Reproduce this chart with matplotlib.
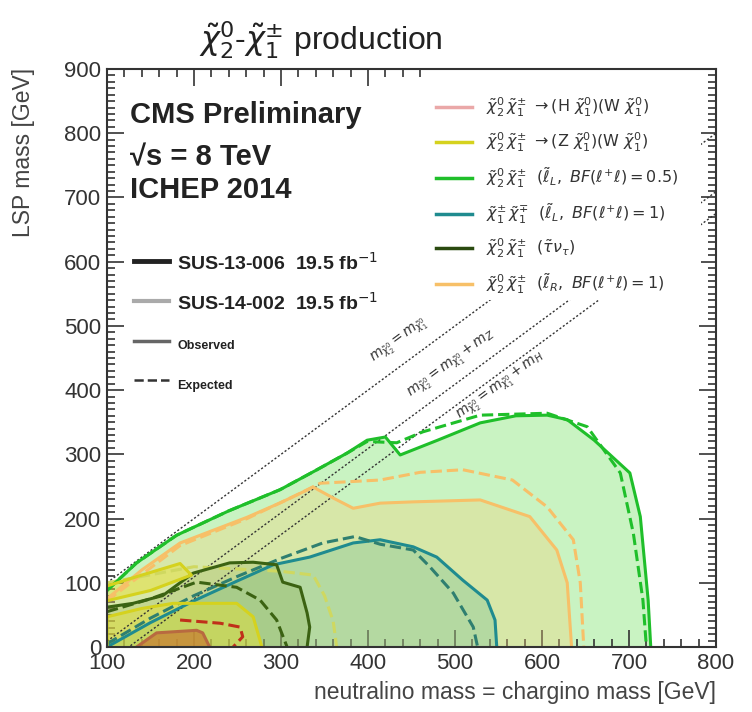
import numpy as np
import matplotlib.pyplot as plt
from matplotlib.lines import Line2D
from matplotlib.patches import Rectangle
from matplotlib.ticker import MultipleLocator

plt.rcParams['font.family'] = ['Liberation Sans', 'DejaVu Sans']

# Exclusion contours (x = chargino mass, y = LSP mass), GeV
green_obs_x = [100, 134, 180, 240, 299, 340, 376, 399, 420, 437, 480, 529, 570, 606, 629, 660, 701, 713, 722, 725]
green_obs_y = [88, 131, 174, 212, 245, 275, 302, 322, 327, 299, 322, 349, 360, 361, 354, 322, 271, 203, 73, 0]
green_exp_x = [100, 134, 180, 240, 299, 340, 376, 399, 433, 463, 529, 606, 652, 690, 705, 716, 720]
green_exp_y = [88, 131, 174, 212, 245, 275, 302, 320, 318, 335, 361, 364, 343, 271, 177, 73, 0]

orange_obs_x = [100, 140, 184, 261, 300, 337, 360, 383, 414, 452, 529, 586, 617, 629, 634]
orange_obs_y = [75, 120, 162, 202, 225, 249, 232, 216, 224, 226, 229, 203, 151, 100, 0]
orange_exp_x = [100, 184, 261, 320, 345, 414, 460, 509, 566, 606, 636, 644, 648]
orange_exp_y = [72, 158, 200, 238, 255, 260, 272, 276, 260, 218, 167, 100, 0]

teal_obs_x = [100, 150, 200, 250, 291, 333, 383, 414, 452, 479, 509, 537, 546, 548]
teal_obs_y = [0, 38, 72, 103, 128, 140, 162, 167, 156, 140, 104, 73, 42, 0]
teal_exp_x = [100, 150, 200, 250, 300, 348, 385, 414, 452, 471, 498, 521, 526]
teal_exp_y = [5, 45, 80, 110, 138, 162, 172, 160, 151, 125, 84, 31, 0]

dkgreen_obs_x = [100, 130, 164, 199, 241, 268, 295, 302, 322, 330, 333, 330]
dkgreen_obs_y = [62, 68, 80, 115, 131, 132, 128, 101, 93, 53, 31, 0]
dkgreen_exp_x = [100, 150, 203, 249, 276, 295, 307]
dkgreen_exp_y = [55, 75, 101, 93, 73, 42, 0]

yellow_band_x = [100, 140, 184, 197, 150, 100]
yellow_band_y = [95, 112, 130, 112, 88, 72]
yellow_low_x = [100, 100, 140, 176, 249, 268, 278]
yellow_low_y = [0, 47, 60, 68, 68, 47, 0]
yellow_exp_x = [100, 200, 299, 337, 350, 360, 364]
yellow_exp_y = [100, 125, 118, 112, 80, 40, 0]

red_obs_x = [134, 157, 203, 210, 218]
red_obs_y = [0, 22, 26, 22, 0]
red_exp_x = [184, 230, 253, 256, 245]
red_exp_y = [42, 37, 31, 16, 0]

# kinematic limits: m_LSP = m_chi - offset
diag_offsets = [0, 91, 125]
diag_labels = [r'$m_{\tilde{\chi}^{0}_{2}} = m_{\tilde{\chi}^{0}_{1}}$',
               r'$m_{\tilde{\chi}^{0}_{2}} = m_{\tilde{\chi}^{0}_{1}} + m_{Z}$',
               r'$m_{\tilde{\chi}^{0}_{2}} = m_{\tilde{\chi}^{0}_{1}} + m_{H}$']
diag_label_x = [437, 496, 553]
diag_label_y = [476, 440, 406]

fig = plt.figure(figsize=(7.52, 7.12), dpi=100)
ax = fig.add_axes([107/752, 65/712, 609/752, 578/712])
ax.set_xlim(100, 800)
ax.set_ylim(0, 900)

def closed(xs, ys):
    return list(xs) + [xs[0]], list(ys) + [ys[0]]

# filled areas
ax.fill(*closed([100] + green_obs_x, [0] + green_obs_y), color='#c0f2b8', alpha=0.85, lw=0, zorder=1)
ax.fill(*closed([100] + orange_obs_x, [0] + orange_obs_y), color='#f3d27a', alpha=0.35, lw=0, zorder=2)
ax.fill(*closed(teal_obs_x, teal_obs_y), color='#3aa88a', alpha=0.22, lw=0, zorder=3)
ax.fill(*closed([100] + dkgreen_obs_x, [0] + dkgreen_obs_y), color='#7a9a30', alpha=0.2, lw=0, zorder=3)
ax.fill(yellow_band_x, yellow_band_y, color='#e8e030', alpha=0.45, lw=0, zorder=4)
ax.fill(yellow_low_x, yellow_low_y, color='#e8e030', alpha=0.45, lw=0, zorder=4)
ax.fill(red_obs_x, red_obs_y, color='#c87a30', alpha=0.7, lw=0, zorder=5)

# contour lines
lw = 2.2
ax.plot(green_obs_x, green_obs_y, color='#1fbf2a', lw=lw, zorder=9)
ax.plot(green_exp_x, green_exp_y, color='#1fbf2a', lw=lw, ls='--', zorder=8)
ax.plot(orange_obs_x, orange_obs_y, color='#f7c068', lw=lw, zorder=7)
ax.plot(orange_exp_x, orange_exp_y, color='#f7c068', lw=lw, ls='--', zorder=7)
ax.plot(teal_obs_x, teal_obs_y, color='#1f8b8f', lw=lw, zorder=8)
ax.plot(teal_exp_x, teal_exp_y, color='#2f7f70', lw=lw, ls='--', zorder=8)
ax.plot(dkgreen_obs_x, dkgreen_obs_y, color='#3b6212', lw=lw, zorder=9)
ax.plot(dkgreen_exp_x, dkgreen_exp_y, color='#3b6212', lw=lw, ls='--', zorder=9)
ax.plot(yellow_band_x, yellow_band_y, color='#d5d21e', lw=lw, zorder=9)
ax.plot(yellow_low_x, yellow_low_y, color='#d5d21e', lw=lw, zorder=9)
ax.plot(yellow_exp_x, yellow_exp_y, color='#cfd860', lw=lw, ls='--', zorder=7)
ax.plot(red_obs_x, red_obs_y, color='#b86a40', lw=lw, zorder=10)
ax.plot(red_exp_x, red_exp_y, color='#c0301a', lw=lw, ls='--', zorder=10)

# diagonal kinematic lines
xd = np.array([100, 800])
for off in diag_offsets:
    ax.plot(xd, xd - off, color='#333333', lw=1.0, ls=(0, (1.5, 1.5)), zorder=6)
angle = np.degrees(np.arctan((578/900) / (609/700)))
for lab, lx, ly in zip(diag_labels, diag_label_x, diag_label_y):
    ax.text(lx, ly, lab, rotation=angle, ha='center', va='center', fontsize=10,
            color='#333333', rotation_mode='anchor', zorder=6)

# white panel behind the model legend (hides the diagonals there)
ax.add_patch(Rectangle((0.53, 0.60), 0.445, 0.40, transform=ax.transAxes,
                       facecolor='white', edgecolor='none', zorder=15))

# text block
for txt, fy in [('CMS Preliminary', 0.92), ('√s = 8 TeV', 0.848), ('ICHEP 2014', 0.79)]:
    ax.text(0.038, fy, txt, transform=ax.transAxes, fontsize=21,
            fontweight='bold', va='center', color='#222222')

# left legend (analyses / observed-expected)
h_left = [Line2D([], [], color='#222222', lw=3.5),
          Line2D([], [], color='#aaaaaa', lw=3),
          Line2D([], [], color='#666666', lw=2.5),
          Line2D([], [], color='#333333', lw=1.8, ls='--')]
l_left = ['SUS-13-006  19.5 fb$^{-1}$', 'SUS-14-002  19.5 fb$^{-1}$', 'Observed', 'Expected']
leg1 = ax.legend(h_left, l_left, loc='upper left', bbox_to_anchor=(0.045, 0.683),
                 frameon=False, borderpad=0, borderaxespad=0, handlelength=1.8,
                 handleheight=1.35, handletextpad=0.4, labelspacing=0.9, fontsize=14)
for i, t in enumerate(leg1.get_texts()):
    t.set_fontweight('bold')
    t.set_color('#222222')
    if i >= 2:
        t.set_fontsize(9)
ax.add_artist(leg1)

# right legend (signal models)
h_right = [Line2D([], [], color='#eaa8a8', lw=2.5),
           Line2D([], [], color='#d5d21e', lw=2.5),
           Line2D([], [], color='#1fbf2a', lw=2.5),
           Line2D([], [], color='#1f8b8f', lw=2.5),
           Line2D([], [], color='#2a4a10', lw=2.5),
           Line2D([], [], color='#f7c068', lw=2.5)]
l_right = [r'$\tilde{\chi}^{0}_{2}\,\tilde{\chi}^{\pm}_{1}\ \rightarrow (\mathrm{H}\ \tilde{\chi}^{0}_{1})(\mathrm{W}\ \tilde{\chi}^{0}_{1})$',
           r'$\tilde{\chi}^{0}_{2}\,\tilde{\chi}^{\pm}_{1}\ \rightarrow (\mathrm{Z}\ \tilde{\chi}^{0}_{1})(\mathrm{W}\ \tilde{\chi}^{0}_{1})$',
           r'$\tilde{\chi}^{0}_{2}\,\tilde{\chi}^{\pm}_{1}\ \ (\tilde{\ell}_{L},\ BF(\ell^{+}\ell)=0.5)$',
           r'$\tilde{\chi}^{\pm}_{1}\,\tilde{\chi}^{\mp}_{1}\ \ (\tilde{\ell}_{L},\ BF(\ell^{+}\ell)=1)$',
           r'$\tilde{\chi}^{0}_{2}\,\tilde{\chi}^{\pm}_{1}\ \ (\tilde{\tau}\nu_{\tau})$',
           r'$\tilde{\chi}^{0}_{2}\,\tilde{\chi}^{\pm}_{1}\ \ (\tilde{\ell}_{R},\ BF(\ell^{+}\ell)=1)$']
leg2 = ax.legend(h_right, l_right, loc='upper left', bbox_to_anchor=(0.528, 0.966),
                 frameon=False, borderpad=0.45, borderaxespad=0, handlelength=2.25,
                 handletextpad=0.9, labelspacing=0.72, fontsize=11.5)
leg2.set_zorder(20)
for t in leg2.get_texts():
    t.set_color('#333333')

# axes styling
ax.xaxis.set_major_locator(MultipleLocator(100))
ax.xaxis.set_minor_locator(MultipleLocator(20))
ax.yaxis.set_major_locator(MultipleLocator(100))
ax.yaxis.set_minor_locator(MultipleLocator(10))
ax.tick_params(which='both', direction='in', top=True, right=True, width=1.2, colors='#333333')
ax.tick_params(which='major', length=12, labelsize=16, pad=4)
ax.tick_params(which='minor', length=6)
for sp in ax.spines.values():
    sp.set_linewidth(1.5)
    sp.set_color('#333333')
    sp.set_zorder(30)

fig.text(716/752, 1 - 693/712, 'neutralino mass = chargino mass [GeV]', ha='right',
         va='center', fontsize=16.5, color='#444444')
fig.text(24/752, 1 - 68/712, 'LSP mass [GeV]', rotation=90, ha='center', va='top',
         fontsize=16.5, color='#444444')

fig.text(321/752, 1 - 40/712, r'$\tilde{\chi}^{0}_{2}$-$\tilde{\chi}^{\pm}_{1}$ production',
         ha='center', va='center', fontsize=23, color='#222222')

fig.savefig('out.png', dpi=100)
